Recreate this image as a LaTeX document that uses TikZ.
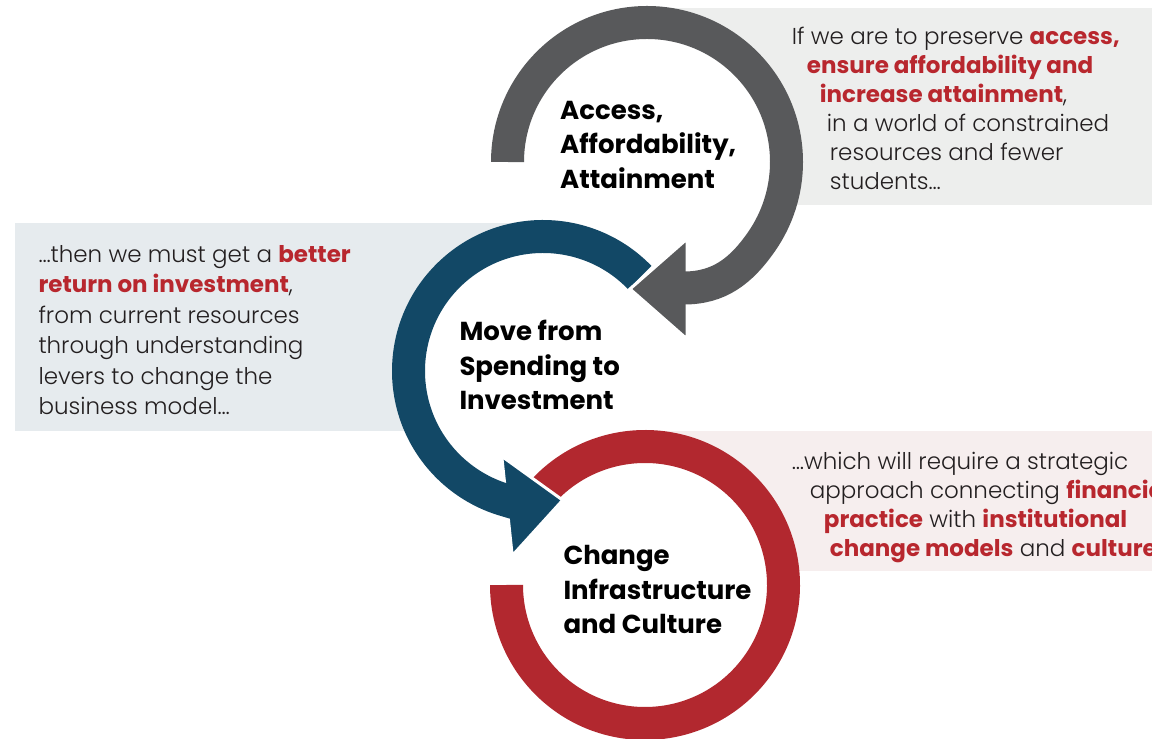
\documentclass[tikz,border=0pt]{standalone}
\usepackage{fontspec}
\setmainfont{Poppins}[UprightFont=* Light, BoldFont=* Bold]
\usetikzlibrary{calc}

\definecolor{ringgrey}{HTML}{58595B}
\definecolor{ringblue}{HTML}{124866}
\definecolor{ringred}{HTML}{B2282F}
\definecolor{accent}{HTML}{B8272E}
\definecolor{ink}{HTML}{231F20}
\definecolor{boxgrey}{HTML}{EDEEED}
\definecolor{boxblue}{HTML}{E6EBEE}
\definecolor{boxpink}{HTML}{F6EEEE}

% red bold words in the side texts
\newcommand{\hl}[1]{\textbf{\color{accent}#1}}

\begin{document}
\begin{tikzpicture}[x=1pt,y=1pt,
    band/.style={line width=33pt},
    head/.style={draw=white,line width=3pt},
    blurb/.style={anchor=base west,inner sep=0pt,align=left,text=ink,font=\fontsize{23}{29}\selectfont},
    title/.style={anchor=base west,inner sep=0pt,align=left,font=\bfseries\fontsize{26}{34.5}\selectfont}]
  \clip (0,0) rectangle (1152,739);
  % centres of the three rings
  \coordinate (top) at (647,577);
  \coordinate (mid) at (543,368);
  \coordinate (low) at (645,154);

  % panels behind the side texts
  \fill[boxgrey] (660,534) rectangle (1152,731);
  \fill[boxblue] (15,308) rectangle (540,516);
  \fill[boxpink] (650,168) rectangle (1152,308);
  \foreach \c/\r in {top/124,mid/119,low/123}
    \fill[white] (\c) circle (\r);

  % red ring (no head)
  \draw[band,ringred] ([shift={(140:138.5)}]low) arc[start angle=140,end angle=-180,radius=138.5];

  % blue ring
  \fill[ringblue,head,shift={(507,233)},rotate=6] (0,50) -- (56,0) -- (0,-50) -- cycle;
  \draw[band,ringblue] ([shift={(44:134.5)}]mid) arc[start angle=44,end angle=252,radius=134.5]
    -- (515,236);

  % grey ring
  \fill[ringgrey,head,shift={(687,450)},rotate=180] (0,50) -- (57,0) -- (0,-50) -- cycle;
  \draw[band,ringgrey] ([shift={(180:139.5)}]top) arc[start angle=180,end angle=-35,radius=139.5]
    to[out=-125,in=0] (684,451);

  % ring titles (placed by their last line)
  \node[title] (access) at (560,550.7) {Access,\\Affordability,\\Attainment};
  \node[title] (spend) at (459.3,329) {Move from\\Spending to\\Investment};
  \node[title] (change) at (563.3,105) {Change\\Infrastructure\\and Culture};

  % side texts
  \node[blurb] (preserve) at (791.7,549) {If we are to preserve \hl{access,}\\
    \hspace*{15pt}\hl{ensure affordability and}\\
    \hspace*{28pt}\hl{increase attainment},\\
    \hspace*{35pt}in a world of constrained\\
    \hspace*{38pt}resources and fewer\\
    \hspace*{38pt}students…};
  \node[blurb,font=\fontsize{23}{30.5}\selectfont] (returns) at (38.3,324) {…then we must get a \hl{better}\\
    \hl{return on investment},\\
    from current resources\\
    through understanding\\
    levers to change the\\
    business model…};
  \node[blurb] (strategy) at (791.7,182.3) {…which will require a strategic\\
    \hspace*{18pt}approach connecting \hl{financial}\\
    \hspace*{32pt}\hl{practice} with \hl{institutional}\\
    \hspace*{38pt}\hl{change models} and \hl{culture}};
\end{tikzpicture}
\end{document}
